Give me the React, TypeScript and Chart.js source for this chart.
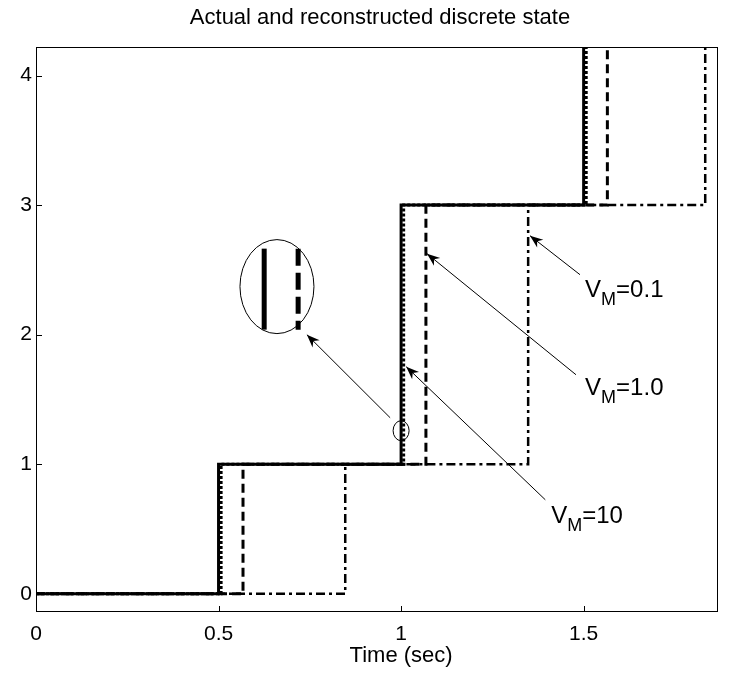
import React, { useEffect, useRef } from "react";
import { Chart, registerables } from "chart.js";

Chart.register(...registerables);

// ---- data ----
const stateLevels = [0, 1, 3, 7];
const actualTimes = [0, 0.5, 1.0, 1.5];
const vm10Times = [0, 0.507, 1.007, 1.507];
const vm1Times = [0, 0.567, 1.068, 1.565];
const vm01Times = [0, 0.847, 1.348, 1.833];
const xTickValues = [0, 0.5, 1, 1.5];
const yTickValues = [0, 1, 2, 3, 4];
const xRange = [0, 1.868];
const yRange = [-0.14, 4.22];
const titleText = "Actual and reconstructed discrete state";
const xAxisLabel = "Time (sec)";
const vmLabels = ["0.1", "1.0", "10"];

const FONT = "'Liberation Sans', Arial, Helvetica, sans-serif";

const toPoints = (times: number[]) => times.map((t, i) => ({ x: t, y: stateLevels[i] }));

// annotation geometry in data coordinates
const labelAnchors = [
  { x: 1.504, y: 2.29 },
  { x: 1.504, y: 1.537 },
  { x: 1.411, y: 0.548 },
];
const arrows = [
  { from: { x: 1.49, y: 2.463 }, to: { x: 1.353, y: 2.764 } },
  { from: { x: 1.479, y: 1.691 }, to: { x: 1.071, y: 2.625 } },
  { from: { x: 1.395, y: 0.726 }, to: { x: 1.014, y: 1.753 } },
  { from: { x: 0.97, y: 1.359 }, to: { x: 0.742, y: 2.0 } },
];
const smallCircle = { x: 1.0, y: 1.259, rx: 8, ry: 10 };
const bigEllipse = { x: 0.66, y: 2.371, rx: 37, ry: 47 };
const insetLines = { xSolid: 0.625, xDashed: 0.718, yTop: 2.664, yBottom: 2.039 };

const decorPlugin = {
  id: "matlabDecor",
  afterDraw(chart: any) {
    const { ctx, chartArea: a, scales } = chart;
    const xs = scales.x;
    const ys = scales.y;
    const px = (v: number) => xs.getPixelForValue(v);
    const py = (v: number) => ys.getPixelForValue(v);
    ctx.save();
    // box
    ctx.strokeStyle = "#000";
    ctx.lineWidth = 1;
    ctx.setLineDash([]);
    ctx.strokeRect(a.left + 0.5, a.top + 0.5, a.right - a.left - 1, a.bottom - a.top - 1);
    // inward ticks
    ctx.beginPath();
    xTickValues.forEach((v) => {
      const x = Math.round(px(v)) + 0.5;
      ctx.moveTo(x, a.bottom);
      ctx.lineTo(x, a.bottom - 6);
    });
    yTickValues.forEach((v) => {
      const y = Math.round(py(v)) + 0.5;
      ctx.moveTo(a.left, y);
      ctx.lineTo(a.left + 6, y);
    });
    ctx.stroke();

    // title
    ctx.fillStyle = "#000";
    ctx.textAlign = "center";
    ctx.textBaseline = "middle";
    ctx.font = `22px ${FONT}`;
    ctx.fillText(titleText, (a.left + a.right) / 2 + 3, 18);
    // x axis label
    ctx.font = `22px ${FONT}`;
    ctx.fillText(xAxisLabel, px(1.0), 656);

    // labels V_M=...
    ctx.textAlign = "left";
    ctx.textBaseline = "alphabetic";
    labelAnchors.forEach((p, i) => {
      let x = px(p.x);
      const y = py(p.y);
      ctx.font = `24px ${FONT}`;
      ctx.fillText("V", x, y);
      x += ctx.measureText("V").width;
      ctx.font = `18px ${FONT}`;
      ctx.fillText("M", x, y + 8);
      x += ctx.measureText("M").width;
      ctx.font = `24px ${FONT}`;
      ctx.fillText("=" + vmLabels[i], x, y);
    });

    // arrows
    arrows.forEach((ar) => {
      const x1 = px(ar.from.x), y1 = py(ar.from.y);
      const x2 = px(ar.to.x), y2 = py(ar.to.y);
      const ang = Math.atan2(y2 - y1, x2 - x1);
      ctx.beginPath();
      ctx.lineWidth = 1;
      ctx.moveTo(x1, y1);
      ctx.lineTo(x2, y2);
      ctx.stroke();
      const L = 13, W = 5, notch = 4;
      const bx = x2 - L * Math.cos(ang), by = y2 - L * Math.sin(ang);
      const nx = x2 - (L - notch) * Math.cos(ang), ny = y2 - (L - notch) * Math.sin(ang);
      const ox = -Math.sin(ang) * W, oy = Math.cos(ang) * W;
      ctx.beginPath();
      ctx.moveTo(x2, y2);
      ctx.lineTo(bx + ox, by + oy);
      ctx.lineTo(nx, ny);
      ctx.lineTo(bx - ox, by - oy);
      ctx.closePath();
      ctx.fill();
    });

    // small circle
    ctx.lineWidth = 1;
    ctx.beginPath();
    ctx.ellipse(px(smallCircle.x), py(smallCircle.y), smallCircle.rx, smallCircle.ry, 0, 0, Math.PI * 2);
    ctx.stroke();
    // big ellipse
    ctx.beginPath();
    ctx.ellipse(px(bigEllipse.x), py(bigEllipse.y), bigEllipse.rx, bigEllipse.ry, 0, 0, Math.PI * 2);
    ctx.stroke();
    // inset lines
    ctx.lineWidth = 5;
    ctx.lineCap = "butt";
    ctx.beginPath();
    ctx.moveTo(px(insetLines.xSolid), py(insetLines.yTop));
    ctx.lineTo(px(insetLines.xSolid), py(insetLines.yBottom));
    ctx.stroke();
    ctx.setLineDash([17, 7]);
    ctx.beginPath();
    ctx.moveTo(px(insetLines.xDashed), py(insetLines.yTop));
    ctx.lineTo(px(insetLines.xDashed), py(insetLines.yBottom));
    ctx.stroke();
    ctx.restore();
  },
};

export default function App() {
  const ref = useRef<HTMLCanvasElement | null>(null);
  useEffect(() => {
    if (!ref.current) return;
    const base = { borderColor: "#000", stepped: "before", pointRadius: 0, fill: false };
    const chart = new Chart(ref.current, {
      type: "line",
      data: {
        datasets: [
          { ...base, label: "Actual", data: toPoints(actualTimes), borderWidth: 3 },
          { ...base, label: "V_M=10", data: toPoints(vm10Times), borderWidth: 3, borderDash: [3, 2] },
          { ...base, label: "V_M=1.0", data: toPoints(vm1Times), borderWidth: 3, borderDash: [9, 5] },
          { ...base, label: "V_M=0.1", data: toPoints(vm01Times), borderWidth: 2.5, borderDash: [9, 4, 3, 4] },
        ],
      },
      options: {
        animation: false,
        responsive: false,
        layout: { padding: { top: 47, right: 20, left: 0, bottom: 0 } },
        plugins: { legend: { display: false }, title: { display: false }, tooltip: { enabled: false } },
        scales: {
          x: {
            type: "linear",
            min: xRange[0],
            max: xRange[1],
            grid: { display: false, drawTicks: false, tickLength: 0 },
            border: { display: false },
            afterFit: (s: any) => {
              s.height = 62;
            },
            afterBuildTicks: (s: any) => {
              s.ticks = xTickValues.map((v) => ({ value: v }));
            },
            ticks: {
              padding: 10,
              maxRotation: 0,
              autoSkip: false,
              color: "#000",
              font: { family: FONT, size: 21 },
              callback: (v: any) => String(v),
            },
          },
          y: {
            type: "linear",
            min: yRange[0],
            max: yRange[1],
            grid: { display: false, drawTicks: false, tickLength: 0 },
            border: { display: false },
            afterFit: (s: any) => {
              s.width = 36;
            },
            afterBuildTicks: (s: any) => {
              s.ticks = yTickValues.map((v) => ({ value: v }));
            },
            ticks: {
              padding: 4,
              autoSkip: false,
              color: "#000",
              font: { family: FONT, size: 21 },
              callback: (v: any) => String(v),
            },
          },
        },
      },
      plugins: [decorPlugin],
    } as any);
    return () => chart.destroy();
  }, []);
  return (
    <div style={{ position: "absolute", left: 0, top: 0, width: 738, height: 674, background: "#fff" }}>
      <canvas ref={ref} width={738} height={674} style={{ display: "block" }} />
    </div>
  );
}
